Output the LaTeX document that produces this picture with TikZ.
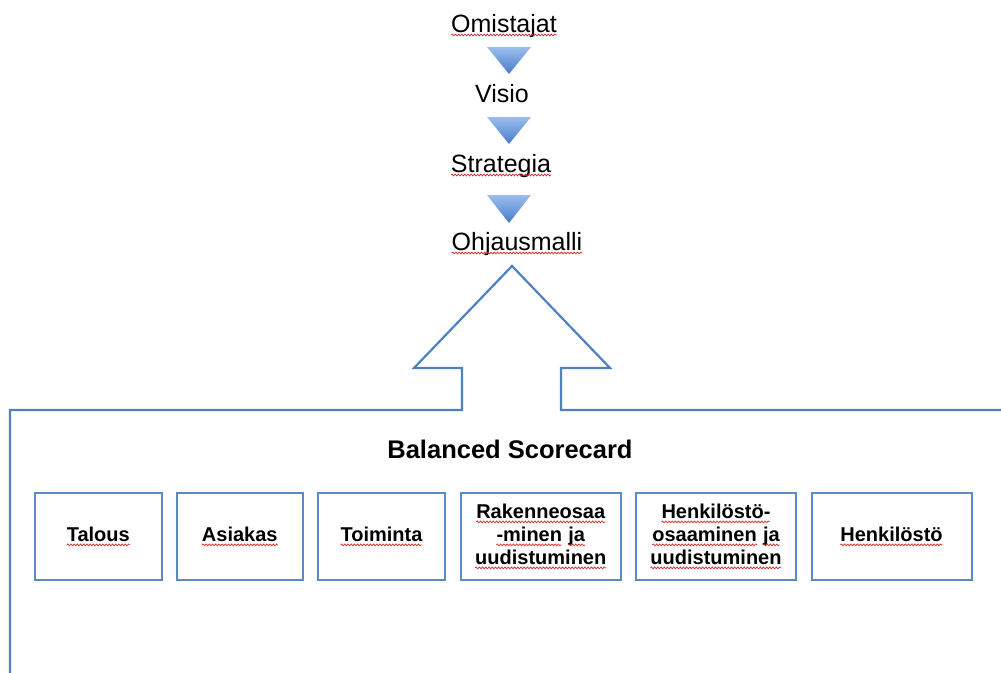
\documentclass[tikz,border=0pt]{standalone}
\usepackage{fontspec}
\setmainfont{Liberation Sans}
\usetikzlibrary{decorations.pathmorphing}

\definecolor{frameblue}{RGB}{79,129,189}
\definecolor{boxblue}{RGB}{92,138,196}
\definecolor{tritop}{RGB}{156,190,236}
\definecolor{tribot}{RGB}{72,122,204}
\definecolor{spellred}{RGB}{210,40,40}

% red wavy underline under a word
\tikzset{wordbox/.style={shape=rectangle,draw=none,fill=none,minimum width=0pt,
  minimum height=0pt,inner sep=0pt,outer sep=0pt,anchor=base}}
\newcommand\spell[1]{\tikz[baseline=(w.base)]{%
  \node[wordbox] (w) {#1};
  \draw[spellred,line width=0.7pt,decorate,
        decoration={snake,amplitude=0.9pt,segment length=3.2pt}]
    ([yshift=-3pt]w.base west) -- ([yshift=-3pt]w.base east);}}

\tikzset{
  toptext/.style={anchor=base,inner sep=0pt,font=\fontsize{25}{30}\selectfont},
  titletext/.style={anchor=base,inner sep=0pt,font=\fontsize{25.5}{30}\selectfont\bfseries},
  kpibox/.style={draw=boxblue,line width=2pt,minimum height=87pt,align=center,
    inner sep=0pt,font=\fontsize{20}{23}\selectfont\bfseries},
  flowtri/.style={top color=tritop,bottom color=tribot,draw=none},
  outline/.style={draw=frameblue,line width=2.2pt,line join=miter}
}

\begin{document}
\begin{tikzpicture}[x=1pt,y=-1pt]
\useasboundingbox (0,0) rectangle (1001,672);

% chain of headings
\node[toptext] (own) at (504,32)  {\spell{Omistajat}};
\node[toptext] (vis) at (502,102) {Visio};
\node[toptext] (str) at (501,172) {\spell{Strategia}};
\node[toptext] (ohj) at (517,250) {\spell{Ohjausmalli}};

% downward triangles between the headings
\shade[flowtri] (487,47)  -- (531,47)  -- (509,74)  -- cycle;
\shade[flowtri] (487,117) -- (531,117) -- (509,144) -- cycle;
\shade[flowtri] (487,195) -- (531,195) -- (509,223) -- cycle;

% frame with the upward arrow
\path[outline] (10,673) -- (10,410) -- (462,410) -- (462,368) -- (414,368)
  -- (512,266) -- (610,368) -- (561,368) -- (561,410) -- (1002,410);

\node[titletext] (bsc) at (510,458) {Balanced Scorecard};

% perspective boxes
\node[kpibox,minimum width=126.5pt] (b1) at (98.25,536.75) {\spell{Talous}};
\node[kpibox,minimum width=126.5pt] (b2) at (239.75,536.75) {\spell{Asiakas}};
\node[kpibox,minimum width=127pt]   (b3) at (381.5,536.75) {\spell{Toiminta}};
\node[kpibox,minimum width=160.5pt] (b4) at (540.75,536.75)
  {\spell{Rakenneosaa}\\\spell{-minen} \spell{ja}\\\spell{uudistuminen}};
\node[kpibox,minimum width=160pt]   (b5) at (716,536.75)
  {\spell{Henkilöstö-}\\\spell{osaaminen} \spell{ja}\\\spell{uudistuminen}};
\node[kpibox,minimum width=160pt]   (b6) at (891.5,536.75) {\spell{Henkilöstö}};
\end{tikzpicture}
\end{document}
